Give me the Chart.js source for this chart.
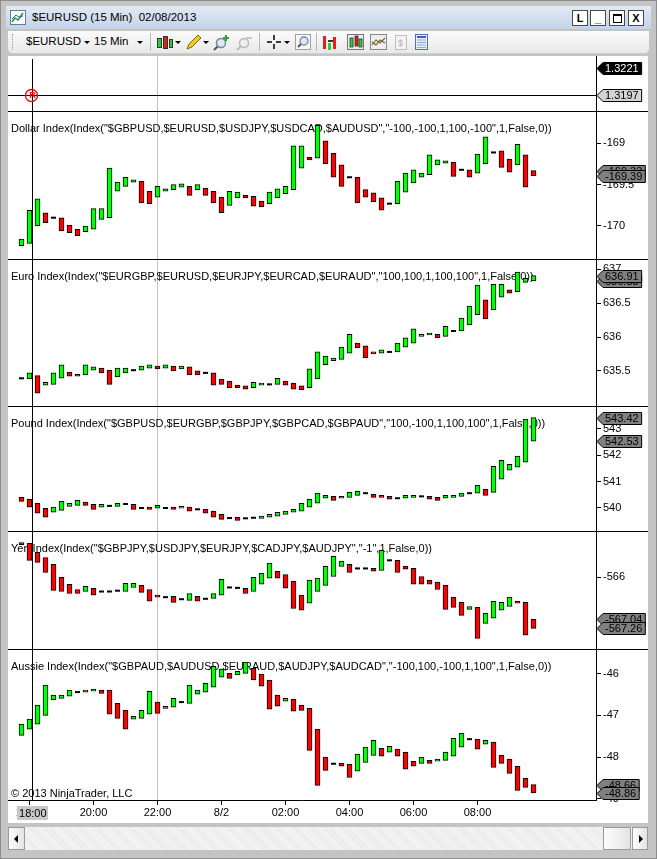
<!DOCTYPE html>
<html>
<head>
<meta charset="utf-8">
<title>$EURUSD (15 Min) 02/08/2013</title>
<script src="https://cdn.jsdelivr.net/npm/chart.js@4.4.1/dist/chart.umd.min.js"></script>
<style>
  body { margin:0; width:657px; height:859px; overflow:hidden; position:relative;
         background:#c4c4c4; font-family:"Liberation Sans", Arial, sans-serif; font-size:11px; color:#000; }
  .abs { position:absolute; }
  #frame { left:0; top:0; width:655px; height:857px; border:1px solid #8c8c8c; }
  #title { left:6px; top:6px; width:645px; height:23px; background:linear-gradient(#e2eaf5,#c2d3e9); }
  #ttext { left:26px; top:5px; font-size:11.5px; white-space:pre; }
  .wbtn { top:4px; width:14px; height:14px; background:#fff; border:1px solid #4a4a4a;
          font-size:11px; line-height:14px; text-align:center; font-weight:bold; }
  #toolbar { left:8px; top:31px; width:641px; height:22px; background:linear-gradient(#fcfcfc,#e8e8e8);
             border-bottom:1px solid #cdcdcd; border-radius:0 0 5px 5px; }
  #toolbar .abs { top:3px; }
  .tt { font-size:11.5px; top:4px !important; }
  .dd { width:0; height:0; border-left:3px solid transparent; border-right:3px solid transparent; border-top:3px solid #000; top:10px !important; }
  .vs { width:1px; height:18px; background:#b8b8b8; top:2px !important; }
  #chartbg { left:8px; top:56px; width:640px; height:767px; background:#fff; }
  canvas { position:absolute; left:8px; }
  .sep { left:8px; width:640px; height:1px; background:#000; }
  #hs { left:8px; top:827px; width:640px; height:23px;
        background:repeating-linear-gradient(45deg,#f6f6f6 0 1px,#e9e9e9 1px 2px); }
  .sb { top:0; height:21px; background:linear-gradient(90deg,#fdfdfd,#e4e4e4); border:1px solid #9a9a9a; }
  .arr { width:0; height:0; top:7px; border-top:4px solid transparent; border-bottom:4px solid transparent; }
</style>
</head>
<body>
<div id="frame" class="abs"></div>

<div id="title" class="abs">
  <svg class="abs" style="left:4px;top:4px" width="16" height="15">
    <rect x="0.5" y="0.5" width="15" height="14" fill="#fff" stroke="#6a7a9a"/>
    <polyline points="2,12 5,8 8,10 13,3" fill="none" stroke="#1c9c2c" stroke-width="1.5"/>
    <polyline points="2,9 6,5 9,7 13,6" fill="none" stroke="#2c5cd0" stroke-width="1"/>
  </svg>
  <span id="ttext" class="abs">$EURUSD (15 Min)  02/08/2013</span>
  <div class="wbtn abs" style="left:566px">L</div>
  <div class="wbtn abs" style="left:584px">_</div>
  <div class="wbtn abs" style="left:603px"><div style="margin:3px auto 0;width:7px;height:6px;border:1px solid #000;border-top-width:2px"></div></div>
  <div class="wbtn abs" style="left:622px">X</div>
</div>

<div id="toolbar" class="abs">
  <div class="abs" style="left:4px;top:3px;width:1px;height:16px;border-left:1px dotted #999"></div>
  <span class="abs tt" style="left:18px">$EURUSD</span>
  <div class="abs dd" style="left:76px"></div>
  <span class="abs tt" style="left:86px">15 Min</span>
  <div class="abs dd" style="left:129px"></div>
  <div class="abs vs" style="left:142px"></div>
  <svg class="abs" style="left:148px" width="18" height="17">
    <rect x="1.5" y="4.5" width="4" height="9" fill="#2ad02a" stroke="#333"/>
    <rect x="7.5" y="2.5" width="4" height="12" fill="#e02020" stroke="#333"/>
    <rect x="13.5" y="5.5" width="3" height="8" fill="#2ad02a" stroke="#333"/>
  </svg>
  <div class="abs dd" style="left:167px"></div>
  <svg class="abs" style="left:177px" width="18" height="17">
    <path d="M2 15 L4 10 L13 1 L16 4 L7 13 Z" fill="#f4c820" stroke="#8a6a10"/>
  </svg>
  <div class="abs dd" style="left:195px"></div>
  <svg class="abs" style="left:205px" width="18" height="17">
    <circle cx="8" cy="9" r="4.5" fill="#dfe7f1" stroke="#7088a8" stroke-width="1.5"/>
    <line x1="4.5" y1="12.5" x2="1" y2="16" stroke="#555" stroke-width="2"/>
    <path d="M13 1 V7 M10 4 H16" stroke="#20b020" stroke-width="2"/>
  </svg>
  <svg class="abs" style="left:228px" width="18" height="17">
    <circle cx="8" cy="9" r="4.5" fill="#eeeeee" stroke="#b8b8b8" stroke-width="1.5"/>
    <line x1="4.5" y1="12.5" x2="1" y2="16" stroke="#bbb" stroke-width="2"/>
    <path d="M10 4 H16" stroke="#c8c8c8" stroke-width="2"/>
  </svg>
  <div class="abs vs" style="left:251px"></div>
  <svg class="abs" style="left:258px" width="16" height="17">
    <path d="M8 1 V6 M8 10 V15 M1 8 H6 M10 8 H15" stroke="#000" stroke-width="1.5"/>
  </svg>
  <div class="abs dd" style="left:276px"></div>
  <svg class="abs" style="left:287px" width="16" height="17">
    <rect x="0.5" y="0.5" width="15" height="15" fill="#f6f6f6" stroke="#a0a0a0"/>
    <circle cx="9" cy="7" r="4" fill="#dce6f2" stroke="#7088a8" stroke-width="1.3"/>
    <line x1="6" y1="10" x2="3" y2="13" stroke="#555" stroke-width="2"/>
  </svg>
  <div class="abs vs" style="left:308px"></div>
  <svg class="abs" style="left:314px" width="18" height="17">
    <rect x="1" y="2" width="3" height="13" fill="#e02020"/>
    <rect x="6" y="6" width="8" height="2" fill="#333"/>
    <rect x="6" y="9" width="3" height="7" fill="#2ad02a"/>
    <rect x="11" y="3" width="3" height="12" fill="#e02020"/>
  </svg>
  <svg class="abs" style="left:339px" width="18" height="17">
    <rect x="0.5" y="0.5" width="16" height="15" fill="#ededed" stroke="#777"/>
    <rect x="3" y="4" width="3" height="9" fill="#2ad02a" stroke="#333" stroke-width="0.8"/>
    <rect x="8" y="2" width="3" height="10" fill="#e02020" stroke="#333" stroke-width="0.8"/>
    <rect x="12" y="5" width="3" height="8" fill="#2ad02a" stroke="#333" stroke-width="0.8"/>
  </svg>
  <svg class="abs" style="left:362px" width="18" height="17">
    <rect x="0.5" y="0.5" width="16" height="15" fill="#eeeeee" stroke="#888"/>
    <polyline points="2,11 6,6 10,9 15,4" fill="none" stroke="#20a030" stroke-width="1.2"/>
    <polyline points="2,8 6,11 10,6 15,9" fill="none" stroke="#d03030" stroke-width="1.2"/>
  </svg>
  <svg class="abs" style="left:385px" width="16" height="17">
    <rect x="2.5" y="1.5" width="11" height="14" fill="#f4f4f4" stroke="#bcbcbc"/>
    <text x="5" y="12" font-size="9" fill="#b0b0b0" font-family="Liberation Sans">$</text>
  </svg>
  <svg class="abs" style="left:406px" width="16" height="17">
    <rect x="1.5" y="0.5" width="12" height="15" fill="#e8eefa" stroke="#5070b8"/>
    <rect x="3" y="2" width="9" height="2" fill="#3a5fc0"/>
    <path d="M3 6 H12 M3 8.5 H12 M3 11 H12 M3 13.5 H12" stroke="#90a8d8"/>
  </svg>
</div>

<div id="chartbg" class="abs"></div>
<canvas id="c0" width="640" height="55" style="top:56px"></canvas>
<canvas id="c1" width="640" height="147" style="top:112px"></canvas>
<canvas id="c2" width="640" height="146" style="top:260px"></canvas>
<canvas id="c3" width="640" height="124" style="top:407px"></canvas>
<canvas id="c4" width="640" height="117" style="top:532px"></canvas>
<canvas id="c5" width="640" height="173" style="top:650px"></canvas>
<div class="sep abs" style="top:111px"></div>
<div class="sep abs" style="top:259px"></div>
<div class="sep abs" style="top:406px"></div>
<div class="sep abs" style="top:531px"></div>
<div class="sep abs" style="top:649px"></div>

<div id="hs" class="abs">
  <div class="sb abs" style="left:0;width:15px"><div class="arr abs" style="left:5px;border-right:4px solid #000"></div></div>
  <div class="sb abs" style="left:595px;width:26px"></div>
  <div class="sb abs" style="left:624px;width:14px"><div class="arr abs" style="left:6px;border-left:4px solid #000"></div></div>
</div>

<script>
// bar times (15 min), 02/07 17:45 .. 02/08 09:45
const times = ['17:45','18:00','18:15','18:30','18:45','19:00','19:15','19:30','19:45','20:00',
  '20:15','20:30','20:45','21:00','21:15','21:30','21:45','22:00','22:15','22:30',
  '22:45','23:00','23:15','23:30','23:45','00:00','00:15','00:30','00:45','01:00',
  '01:15','01:30','01:45','02:00','02:15','02:30','02:45','03:00','03:15','03:30',
  '03:45','04:00','04:15','04:30','04:45','05:00','05:15','05:30','05:45','06:00',
  '06:15','06:30','06:45','07:00','07:15','07:30','07:45','08:00','08:15','08:30',
  '08:45','09:00','09:15','09:30','09:45'];
const xTickBars = [2, 10, 18, 26, 34, 42, 50, 58];
const xTickLabels = ['18:00', '20:00', '22:00', '8/2', '02:00', '04:00', '06:00', '08:00'];
const crossBar = 2.35;     // crosshair position (bars)
const sessionBar = 18;     // session break line
const eurusdLast = 1.3221;
const eurusdCross = 1.3197;

const dollarOpen = [-170.24,-170.21,-170.00,-169.84,-169.90,-169.90,-169.99,-170.04,-170.07,-170.04,
  -169.92,-169.90,-169.58,-169.52,-169.47,-169.46,-169.58,-169.65,-169.58,-169.56,
  -169.53,-169.52,-169.56,-169.54,-169.58,-169.65,-169.75,-169.66,-169.63,-169.64,
  -169.70,-169.73,-169.66,-169.61,-169.56,-169.30,-169.17,-169.18,-168.97,-169.12,
  -169.26,-169.41,-169.41,-169.56,-169.60,-169.66,-169.73,-169.73,-169.59,-169.48,
  -169.41,-169.38,-169.26,-169.24,-169.23,-169.32,-169.32,-169.36,-169.25,-169.11,
  -169.09,-169.19,-169.26,-169.14,-169.33];
const dollarClose = [-170.16,-169.81,-169.67,-169.96,-169.90,-170.06,-170.08,-170.12,-170.00,-169.79,
  -169.79,-169.30,-169.47,-169.41,-169.44,-169.72,-169.73,-169.52,-169.55,-169.50,
  -169.49,-169.63,-169.50,-169.63,-169.72,-169.84,-169.58,-169.59,-169.66,-169.76,
  -169.77,-169.59,-169.55,-169.52,-169.03,-169.03,-169.20,-168.78,-169.25,-169.41,
  -169.52,-169.41,-169.72,-169.65,-169.71,-169.81,-169.73,-169.46,-169.36,-169.32,
  -169.36,-169.14,-169.20,-169.21,-169.40,-169.32,-169.41,-169.13,-168.92,-169.11,
  -169.29,-169.35,-169.01,-169.53,-169.39];

const euroOpen = [635.39,635.38,635.43,635.29,635.30,635.39,635.48,635.45,635.44,635.51,
  635.54,635.51,635.41,635.47,635.51,635.51,635.54,635.57,635.54,635.57,
  635.53,635.56,635.50,635.47,635.47,635.38,635.35,635.29,635.28,635.25,
  635.29,635.30,635.30,635.35,635.32,635.28,635.25,635.38,635.59,635.65,
  635.67,635.76,635.91,635.87,635.78,635.76,635.78,635.78,635.85,635.91,
  636.01,636.03,636.04,636.01,636.09,636.09,636.18,636.33,636.55,636.40,
  636.59,636.70,636.67,636.81,636.83];
const euroClose = [635.39,635.47,635.17,635.33,635.47,635.59,635.42,635.42,635.59,635.56,
  635.47,635.30,635.54,635.54,635.51,635.57,635.59,635.53,635.59,635.50,
  635.57,635.44,635.44,635.47,635.29,635.30,635.25,635.25,635.23,635.33,
  635.32,635.30,635.39,635.29,635.23,635.22,635.53,635.78,635.72,635.69,
  635.85,636.04,635.84,635.69,635.75,635.81,635.78,635.91,635.99,636.12,
  636.04,636.06,635.99,636.16,636.09,636.28,636.46,636.77,636.27,636.78,
  636.78,636.65,636.96,636.87,636.91];

const poundOpen = [540.40,540.33,540.18,539.99,539.84,539.91,540.06,540.10,540.22,540.14,
  540.03,540.08,540.06,540.15,540.14,540.00,540.03,539.99,540.00,540.03,
  539.99,540.03,539.95,539.95,539.88,539.76,539.62,539.65,539.61,539.63,
  539.61,539.65,539.69,539.76,539.84,539.88,540.03,540.18,540.37,540.44,
  540.37,540.40,540.48,540.56,540.52,540.48,540.44,540.37,540.37,540.40,
  540.44,540.44,540.40,540.37,540.40,540.44,540.56,540.56,540.71,540.59,
  541.09,541.43,541.54,541.73,542.53];
const poundClose = [540.25,540.03,539.80,539.65,540.03,540.25,540.18,540.29,540.10,539.95,
  540.14,540.08,540.18,540.15,539.95,540.00,539.95,540.10,540.00,539.95,
  540.06,539.88,539.95,539.80,539.65,539.57,539.62,539.53,539.61,539.63,
  539.69,539.76,539.84,539.88,539.95,540.18,540.33,540.56,540.48,540.29,
  540.44,540.59,540.63,540.56,540.40,540.40,540.33,540.37,540.48,540.48,
  540.44,540.33,540.29,540.48,540.48,540.56,540.56,540.86,540.48,541.58,
  541.80,541.65,541.96,543.36,543.42];

const yenOpen = [-565.14,-565.16,-565.38,-565.51,-565.68,-566.00,-566.17,-566.30,-566.35,-566.27,
  -566.35,-566.35,-566.33,-566.35,-566.25,-566.20,-566.30,-566.44,-566.49,-566.47,
  -566.54,-566.57,-566.47,-566.53,-566.52,-566.44,-566.25,-566.26,-566.27,-566.35,
  -566.17,-566.02,-565.85,-565.93,-566.10,-566.44,-566.64,-566.35,-566.20,-565.98,
  -565.73,-565.68,-565.78,-565.78,-565.78,-565.83,-565.58,-565.58,-565.73,-565.78,
  -565.98,-566.07,-566.12,-566.20,-566.49,-566.62,-566.79,-566.74,-567.14,-567.01,
  -566.81,-566.72,-566.59,-566.62,-567.04];
const yenClose = [-565.19,-565.58,-565.63,-565.88,-566.32,-566.35,-566.40,-566.40,-566.22,-566.44,
  -566.35,-566.35,-566.33,-566.15,-566.15,-566.37,-566.59,-566.49,-566.49,-566.62,
  -566.54,-566.40,-566.59,-566.53,-566.40,-566.05,-566.25,-566.26,-566.40,-566.00,
  -565.90,-565.65,-566.02,-566.27,-566.77,-566.81,-566.07,-566.02,-565.73,-565.48,
  -565.60,-565.88,-565.78,-565.78,-565.85,-565.33,-565.58,-565.88,-565.80,-566.17,
  -566.17,-566.17,-566.30,-566.79,-566.74,-566.94,-566.72,-567.51,-566.89,-566.59,
  -566.62,-566.49,-566.64,-567.43,-567.26];

const aussieOpen = [-47.48,-47.33,-47.21,-47.00,-46.63,-46.59,-46.54,-46.44,-46.44,-46.42,
  -46.39,-46.39,-46.71,-46.88,-47.09,-47.07,-46.97,-46.68,-46.83,-46.80,
  -46.68,-46.71,-46.49,-46.44,-46.32,-46.08,-45.99,-46.03,-45.99,-45.87,
  -46.01,-46.15,-46.51,-46.66,-46.61,-46.75,-46.83,-47.33,-48.00,-48.16,
  -48.15,-48.17,-48.34,-48.13,-47.96,-47.79,-47.88,-47.81,-47.88,-48.10,
  -48.15,-48.08,-48.10,-48.08,-47.98,-47.76,-47.57,-47.57,-47.69,-47.64,
  -47.96,-48.05,-48.22,-48.51,-48.66];
const aussieClose = [-47.21,-47.09,-46.75,-46.27,-46.51,-46.51,-46.39,-46.44,-46.39,-46.37,
  -46.47,-46.97,-47.07,-47.33,-47.02,-46.88,-46.42,-46.95,-46.78,-46.59,
  -46.68,-46.27,-46.39,-46.23,-45.82,-45.89,-46.11,-45.94,-45.72,-46.15,
  -46.30,-46.85,-46.78,-46.59,-46.90,-46.88,-47.84,-48.68,-48.32,-48.16,
  -48.22,-48.49,-47.93,-47.76,-47.60,-47.98,-47.74,-47.98,-48.29,-48.22,
  -48.00,-48.15,-48.05,-47.88,-47.55,-47.43,-47.57,-47.81,-47.60,-48.25,
  -48.15,-48.39,-48.80,-48.73,-48.86];

const dollarTicks = [-169, -169.5, -170];
const euroTicks = [637, 636.5, 636, 635.5];
const poundTicks = [543, 542, 541, 540];
const yenTicks = [-566];
const aussieTicks = [-46, -47, -48, -49];

const UP = '#00ff00';
const DOWN = '#ff0000';
const FONT = '"Liberation Sans", Arial, sans-serif';

// price tag on the right axis, pointing left
function drawTag(ctx, x0, y, text, fill, color) {
  ctx.font = '11px ' + FONT;
  const w = ctx.measureText(text).width;
  ctx.beginPath();
  ctx.moveTo(x0, y);
  ctx.lineTo(x0 + 6, y - 6);
  ctx.lineTo(x0 + w + 11, y - 6);
  ctx.lineTo(x0 + w + 11, y + 6);
  ctx.lineTo(x0 + 6, y + 6);
  ctx.closePath();
  ctx.fillStyle = fill;
  ctx.fill();
  ctx.strokeStyle = '#000';
  ctx.lineWidth = 1;
  ctx.stroke();
  ctx.fillStyle = color;
  ctx.textAlign = 'left';
  ctx.textBaseline = 'middle';
  ctx.fillText(text, x0 + 8, y + 0.5);
}

const decor = {
  id: 'decor',
  beforeDatasetsDraw(chart, args, o) {
    const {ctx, chartArea: a, scales: {x}} = chart;
    ctx.save();
    const sx = Math.floor(x.getPixelForValue(sessionBar)) + 0.5;
    ctx.strokeStyle = '#c4c4c4';
    ctx.lineWidth = 1;
    ctx.beginPath(); ctx.moveTo(sx, a.top); ctx.lineTo(sx, a.bottom); ctx.stroke();
    ctx.font = '11px ' + FONT;
    ctx.fillStyle = '#000';
    ctx.textBaseline = 'middle';
    ctx.textAlign = 'left';
    if (o.title) ctx.fillText(o.title, a.left + 3, a.top + 16.5);
    if (o.footer) ctx.fillText(o.footer, a.left + 3, a.bottom - 6);
    ctx.restore();
  },
  afterDatasetsDraw(chart, args, o) {
    const {ctx, chartArea: a, scales: {x, y}} = chart;
    ctx.save();
    ctx.strokeStyle = '#000';
    ctx.lineWidth = 1;
    const cx = Math.floor(x.getPixelForValue(crossBar)) + 0.5;
    ctx.beginPath(); ctx.moveTo(cx, a.top + (o.crossPrice ? 3 : 0)); ctx.lineTo(cx, a.bottom); ctx.stroke();
    if (o.crossPrice) {
      const cy = Math.floor(y.getPixelForValue(o.crossPrice)) + 0.5;
      ctx.beginPath(); ctx.moveTo(a.left, cy); ctx.lineTo(a.right, cy); ctx.stroke();
      // cursor marker
      ctx.strokeStyle = '#ff0000';
      ctx.lineWidth = 1.3;
      ctx.beginPath(); ctx.arc(cx - 1, cy, 6, 0, Math.PI * 2); ctx.stroke();
      ctx.fillStyle = '#ff0000';
      ctx.font = 'bold 9px ' + FONT;
      ctx.textAlign = 'center';
      ctx.textBaseline = 'middle';
      ctx.fillText('R', cx, cy + 0.5);
    }
    ctx.restore();
  },
  afterDraw(chart, args, o) {
    const {ctx, chartArea: a, scales: {x, y}} = chart;
    ctx.save();
    (o.tags || []).forEach(t => {
      drawTag(ctx, a.right + 1, Math.round(y.getPixelForValue(t.value)) + 0.5, t.text, t.fill, t.color);
    });
    if (o.timeMark) {
      const cx = x.getPixelForValue(crossBar);
      const label = times[Math.round(crossBar) - 1];
      ctx.fillStyle = '#c8c8c8';
      ctx.fillRect(Math.round(cx - 15), a.bottom + 6, 31, 14);
      ctx.fillStyle = '#000';
      ctx.font = '11px ' + FONT;
      ctx.textAlign = 'center';
      ctx.textBaseline = 'middle';
      ctx.fillText(label, cx + 0.5, a.bottom + 13.5);
    }
    ctx.restore();
  }
};

function candleSets(open, close) {
  return [{
    type: 'bar',
    data: open.map((o, i) => ({x: i + 1, y: [o, close[i]]})).filter(d => d.y[0] !== d.y[1]),
    backgroundColor: c => (c.raw && c.raw.y[1] > c.raw.y[0]) ? UP : DOWN,
    borderColor: '#000',
    borderWidth: 1,
    borderSkipped: false,
    barThickness: 5
  }, {
    type: 'scatter',
    data: open.map((o, i) => ({x: i + 1, y: o})).filter((d, i) => open[i] === close[i]),
    pointStyle: 'line',
    pointRadius: 2.5,
    pointBorderColor: '#000',
    pointBorderWidth: 2
  }];
}

function tagsFor(open, close) {
  const n = open.length - 1;
  return [
    {value: open[n], text: open[n].toFixed(2), fill: '#808080', color: '#000'},
    {value: close[n], text: close[n].toFixed(2), fill: '#808080', color: '#000'}
  ];
}

function makePanel(p) {
  return new Chart(document.getElementById(p.canvas), {
    type: 'bar',
    data: {datasets: p.open ? candleSets(p.open, p.close) : []},
    options: {
      responsive: false,
      animation: false,
      events: [],
      layout: {padding: 0, autoPadding: false},
      plugins: {
        legend: {display: false},
        tooltip: {enabled: false},
        decor: {title: p.title, footer: p.footer, tags: p.tags, crossPrice: p.crossPrice, timeMark: p.showX}
      },
      scales: {
        x: {
          type: 'linear',
          min: -0.6875,
          max: 72.8125,
          offset: false,
          display: !!p.showX,
          afterBuildTicks: s => { s.ticks = xTickBars.map(v => ({value: v})); },
          afterFit: s => {
            s.height = p.showX ? 23 : 0;
            s.paddingLeft = 0; s.paddingRight = 0;
          },
          grid: {offset: false, drawOnChartArea: false, drawTicks: true, tickLength: 5, color: '#000'},
          border: {display: true, color: '#000'},
          ticks: {
            autoSkip: false, maxRotation: 0, padding: 1, color: '#000',
            font: {family: FONT, size: 11},
            callback: v => xTickLabels[xTickBars.indexOf(v)]
          }
        },
        y: {
          position: 'right',
          min: p.min,
          max: p.max,
          afterBuildTicks: s => { s.ticks = (p.ticks || []).map(v => ({value: v})); },
          afterFit: s => { s.width = 52; s.paddingTop = 0; s.paddingBottom = 0; },
          grid: {drawOnChartArea: false, drawTicks: !!p.ticks, tickLength: 5, color: '#000'},
          border: {display: true, color: '#000'},
          ticks: {
            display: !!p.ticks, padding: 2, color: '#000',
            font: {family: FONT, size: 11},
            callback: v => String(v)
          }
        }
      }
    },
    plugins: [decor]
  });
}

const panels = [
  {canvas: 'c0', min: 1.318278, max: 1.323167, crossPrice: eurusdCross,
   tags: [{value: eurusdLast, text: eurusdLast.toFixed(4), fill: '#000', color: '#fff'},
          {value: eurusdCross, text: eurusdCross.toFixed(4), fill: '#d4d4d4', color: '#000'}]},
  {canvas: 'c1', open: dollarOpen, close: dollarClose, ticks: dollarTicks, min: -170.40, max: -168.62,
   title: 'Dollar Index(Index("$GBPUSD,$EURUSD,$USDJPY,$USDCAD,$AUDUSD","-100,-100,1,100,-100",1,False,0))'},
  {canvas: 'c2', open: euroOpen, close: euroClose, ticks: euroTicks, min: 634.98, max: 637.14,
   title: 'Euro Index(Index("$EURGBP,$EURUSD,$EURJPY,$EURCAD,$EURAUD","100,100,1,100,100",1,False,0))'},
  {canvas: 'c3', open: poundOpen, close: poundClose, ticks: poundTicks, min: 539.13, max: 543.82,
   title: 'Pound Index(Index("$GBPUSD,$EURGBP,$GBPJPY,$GBPCAD,$GBPAUD","100,-100,1,100,100",1,False,0))'},
  {canvas: 'c4', open: yenOpen, close: yenClose, ticks: yenTicks, min: -567.77, max: -564.88,
   title: 'Yen Index(Index("$GBPJPY,$USDJPY,$EURJPY,$CADJPY,$AUDJPY","-1",1,False,0))'},
  {canvas: 'c5', open: aussieOpen, close: aussieClose, ticks: aussieTicks, min: -49.03, max: -45.43, showX: true,
   title: 'Aussie Index(Index("$GBPAUD,$AUDUSD,$EURAUD,$AUDJPY,$AUDCAD","-100,100,-100,1,100",1,False,0))',
   footer: '\u00a9 2013 NinjaTrader, LLC'}
];

panels.forEach(p => {
  if (p.open) p.tags = tagsFor(p.open, p.close);
  makePanel(p);
});
</script>
</body>
</html>
